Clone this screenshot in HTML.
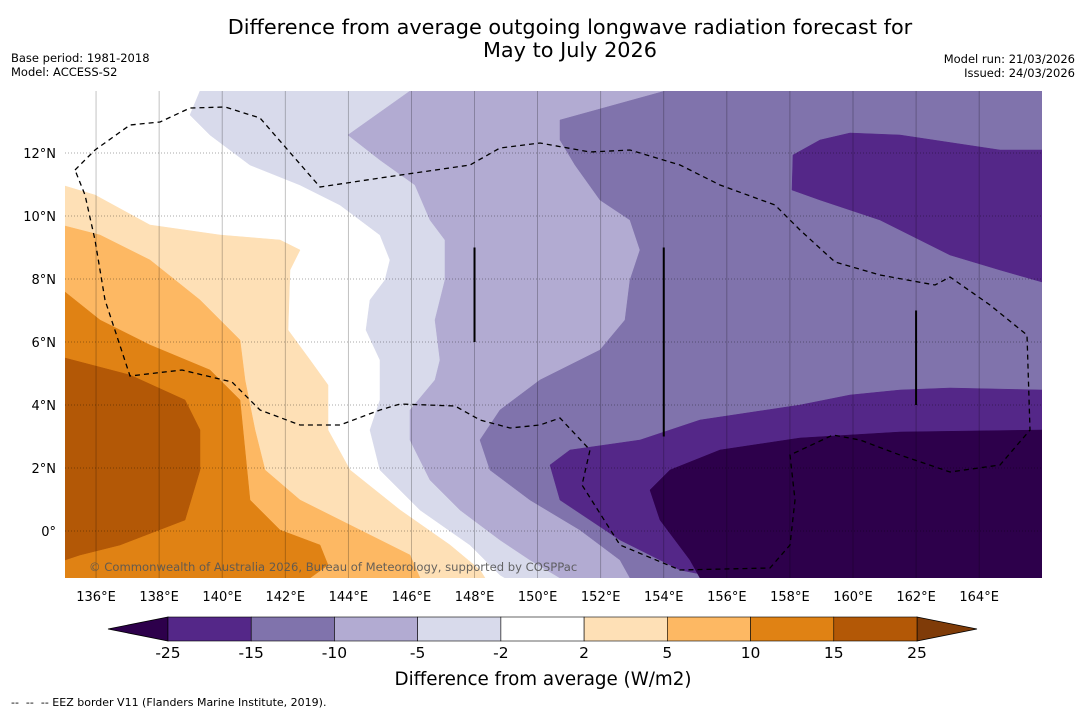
<!DOCTYPE html>
<html><head><meta charset="utf-8"><style>
body{margin:0;background:#fff;font-family:"DejaVu Sans","Liberation Sans",sans-serif;}
svg text{font-family:"DejaVu Sans","Liberation Sans",sans-serif;}
</style></head><body>
<svg id="s" width="1085" height="713" xmlns="http://www.w3.org/2000/svg">
<text x="570" y="34" font-size="20.8" text-anchor="middle">Difference from average outgoing longwave radiation forecast for</text>
<text x="570" y="57" font-size="20.8" text-anchor="middle">May to July 2026</text>
<text x="11" y="62" font-size="11.5">Base period: 1981-2018</text>
<text x="11" y="76" font-size="11.5">Model: ACCESS-S2</text>
<text x="1075" y="63" font-size="11.5" text-anchor="end">Model run: 21/03/2026</text>
<text x="1075" y="77" font-size="11.5" text-anchor="end">Issued: 24/03/2026</text>
<g id="map"></g>
<g id="cb"></g>
<text x="543" y="685" font-size="18.3" text-anchor="middle">Difference from average (W/m2)</text>
<text x="11" y="706" font-size="11" xml:space="preserve">--  --  -- EEZ border V11 (Flanders Marine Institute, 2019).</text>
</svg>
<script>
const lonTicks=[136,138,140,142,144,146,148,150,152,154,156,158,160,162,164];
const latTicks=[0,2,4,6,8,10,12];
const levels=[-25,-15,-10,-5,-2,2,5,10,15,25];
const colors=["#542788","#8073ac","#b2abd2","#d8daeb","#ffffff","#fee0b6","#fdb863","#e08214","#b35806"];
const extLow="#2d004b", extHigh="#7f3b08";
// contour geometry (traced, pixel space)
const cPos2=[[65,186],[95,195],[150,225],[220,235],[280,240],[300,250],[290,270],[288,330],[310,360],[328,385],[328,430],[350,470],[400,510],[450,545],[480,570],[485,578],[65,578]];
const cPos5=[[65,226],[100,235],[150,260],[200,300],[240,340],[245,380],[255,430],[265,470],[300,500],[360,530],[410,555],[420,578],[65,578]];
const cPos10=[[65,292],[100,320],[150,345],[210,370],[240,400],[245,450],[250,500],[280,530],[320,545],[328,565],[310,578],[65,578]];
const cPos15=[[65,358],[130,375],[185,400],[200,430],[200,470],[185,520],[120,545],[80,555],[65,560]];
const cNeg2=[[200,91],[190,115],[210,135],[250,165],[300,185],[340,205],[380,235],[390,260],[385,280],[370,300],[366,330],[380,360],[380,400],[370,430],[380,470],[420,510],[470,545],[500,575],[505,578],[1042,578],[1042,91]];
const cNeg5=[[410,91],[348,135],[380,160],[415,185],[430,220],[445,240],[445,280],[435,320],[440,360],[435,380],[410,410],[410,440],[430,480],[460,510],[500,540],[530,560],[560,578],[1042,578],[1042,91]];
const cNeg10=[[665,91],[560,120],[560,140],[575,165],[600,200],[630,220],[640,250],[630,280],[625,320],[600,350],[540,380],[500,410],[480,440],[490,470],[530,500],[580,530],[620,560],[630,578],[1042,578],[1042,91]];
const cNeg15a=[[793,155],[820,140],[850,133],[900,135],[1000,150],[1042,150],[1042,282],[1000,270],[950,255],[880,220],[820,200],[792,190]];
const cNeg15b=[[1042,390],[950,388],[900,390],[850,395],[800,405],[700,420],[640,440],[570,450],[550,465],[560,500],[620,540],[680,570],[720,578],[1042,578]];
const cNeg25=[[1042,430],[900,432],[800,438],[720,450],[670,470],[650,490],[660,520],[690,560],[700,578],[1042,578]];
const eez=[[75,170],[95,150],[130,125],[160,122],[190,108],[225,107],[260,118],[320,187],[380,178],[470,165],[500,148],[540,143],[590,152],[630,150],[680,165],[720,185],[775,205],[800,230],[835,262],[880,275],[935,285],[950,277],[990,305],[1027,335],[1030,430],[1000,465],[950,472],[900,455],[860,440],[833,435],[790,455],[795,500],[790,545],[770,568],[680,570],[620,545],[582,485],[590,450],[560,418],[540,425],[510,428],[480,420],[455,406],[400,404],[380,410],[340,425],[300,425],[260,410],[232,382],[182,370],[130,376],[105,300],[95,240],[85,195],[75,170]];
const segLon=[148,154,162], segLat0=[6,3,4], segLat1=[9,9,7];

const NS="http://www.w3.org/2000/svg";
const X0=65,X1=1042,Y0=91,Y1=578;
const xs=lon=>64.5+(lon-135)*31.54;
const ys=lat=>531-lat*31.5;
function mk(tag,attrs,parent){const e=document.createElementNS(NS,tag);for(const k in attrs)e.setAttribute(k,attrs[k]);parent.appendChild(e);return e;}
const map=document.getElementById('map');
const defs=mk('defs',{},map);
const cp=mk('clipPath',{id:'clip'},defs);
mk('rect',{x:X0,y:Y0,width:X1-X0,height:Y1-Y0},cp);
const g=mk('g',{'clip-path':'url(#clip)'},map);
let r=mk('rect',{x:X0,y:Y0,width:X1-X0,height:Y1-Y0,fill:'#fff'},g);

const fills=[[cPos2,colors[5],'contour-2-5'],[cPos5,colors[6],'contour-5-10'],[cPos10,colors[7],'contour-10-15'],[cPos15,colors[8],'contour-15-25'],
[cNeg2,colors[3],'contour-m2-m5'],[cNeg5,colors[2],'contour-m5-m10'],[cNeg10,colors[1],'contour-m10-m15'],[cNeg15a,colors[0],'contour-m15-north'],[cNeg15b,colors[0],'contour-m15-south'],[cNeg25,extLow,'contour-below-m25']];
for(const [pts,c,n] of fills){
 const p=mk('polygon',{points:pts.map(q=>q.join(',')).join(' '),fill:c,stroke:c,'stroke-width':0.5,'stroke-linejoin':'round'},g);
 
 
}
lonTicks.forEach(l=>{
 const x=xs(l);
 const ln=mk('line',{x1:x,x2:x,y1:Y0,y2:Y1,stroke:'#000','stroke-opacity':0.3,'stroke-width':0.8},g);
 
 
 const t=mk('text',{x:x,y:601,'font-size':13,'text-anchor':'middle'},map);t.textContent=l+'°E';
 
 
});
latTicks.forEach(l=>{
 const y=ys(l);
 const ln=mk('line',{x1:X0,x2:X1,y1:y,y2:y,stroke:'#000','stroke-opacity':0.45,'stroke-width':0.8,'stroke-dasharray':'1,2'},g);
 
 
 const t=mk('text',{x:56,y:y+5,'font-size':13,'text-anchor':'end'},map);t.textContent=l===0?'0°':l+'°N';
 
 
});
const e=mk('polyline',{points:eez.map(q=>q.join(',')).join(' '),fill:'none',stroke:'#000','stroke-width':1.3,'stroke-dasharray':'5,4'},g);


segLon.forEach((l,i)=>{
 const s=mk('line',{x1:xs(l),x2:xs(l),y1:ys(segLat0[i]),y2:ys(segLat1[i]),stroke:'#000','stroke-width':2},g);
 
 
});
const cr=mk('text',{x:89,y:571,'font-size':11.6,fill:'#555','fill-opacity':0.9},map);
cr.textContent='© Commonwealth of Australia 2026, Bureau of Meteorology, supported by COSPPac';


// colorbar
const cb=document.getElementById('cb');
const CB0=168,CB1=917,CY=617,CH=24,bw=(CB1-CB0)/colors.length;
const lt=mk('polygon',{points:`${CB0},${CY} ${108},${CY+CH/2} ${CB0},${CY+CH}`,fill:extLow,stroke:'#000','stroke-width':0.8},cb);


const ht=mk('polygon',{points:`${CB1},${CY} ${977},${CY+CH/2} ${CB1},${CY+CH}`,fill:extHigh,stroke:'#000','stroke-width':0.8},cb);


colors.forEach((c,i)=>{
 const b=mk('rect',{x:CB0+i*bw,y:CY,width:bw,height:CH,fill:c,stroke:'#000','stroke-width':0.6},cb);
 
 
});
levels.forEach((v,i)=>{
 const t=mk('text',{x:CB0+i*bw,y:658,'font-size':15.5,'text-anchor':'middle'},cb);t.textContent=v;
 
 
});
</script>
</body></html>
